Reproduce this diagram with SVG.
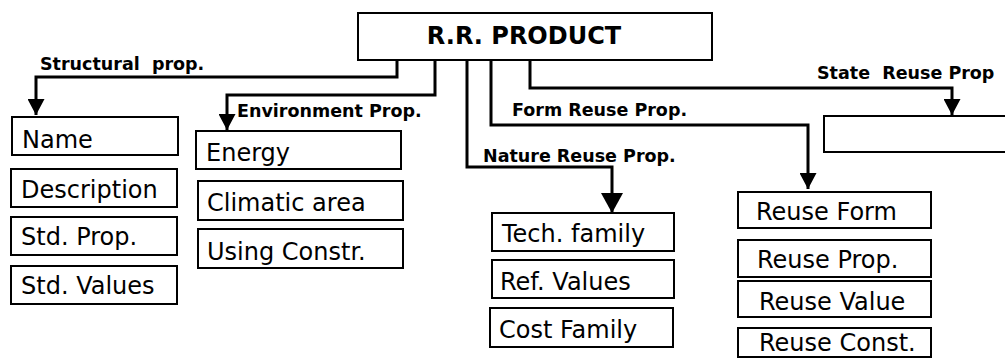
<svg xmlns="http://www.w3.org/2000/svg" width="1005" height="361" viewBox="0 0 1005 361">
<defs>
<marker id="ah" markerUnits="userSpaceOnUse" markerWidth="17" markerHeight="17" refX="16" refY="8.5" orient="auto">
<path d="M0,0 L16,8.5 L0,17 z" fill="#000"/>
</marker>
<marker id="ahl" markerUnits="userSpaceOnUse" markerWidth="21" markerHeight="22" refX="20" refY="11" orient="auto">
<path d="M0,0 L20,11 L0,22 z" fill="#000"/>
</marker>
</defs>
<style>
.box{fill:#fff;stroke:#000;stroke-width:2}
.t{font-family:"DejaVu Sans",sans-serif;font-size:24px;fill:#000}
.lb{font-family:"DejaVu Sans",sans-serif;font-size:17.5px;font-weight:bold;fill:#000}
.c{fill:none;stroke:#000;stroke-width:3}
</style>
<rect width="1005" height="361" fill="#fff"/>
<g id="connectors">
<path class="c" d="M397,60 V77 H36 V115" marker-end="url(#ah)"/>
<path class="c" d="M435,60 V95 H227 V130" marker-end="url(#ah)"/>
<path class="c" d="M467,60 V167 H612 V213" marker-end="url(#ahl)"/>
<path class="c" d="M491,60 V125 H808 V189" marker-end="url(#ah)"/>
<path class="c" d="M530,60 V88 H952 V115" marker-end="url(#ah)"/>
</g>
<g id="labels">
<text class="lb" x="40" y="70" xml:space="preserve">Structural  prop.</text>
<text class="lb" x="237" y="117">Environment Prop.</text>
<text class="lb" x="512" y="116">Form Reuse Prop.</text>
<text class="lb" x="483" y="162">Nature Reuse Prop.</text>
<text class="lb" x="817" y="79" xml:space="preserve">State  Reuse Prop</text>
</g>
<g id="root">
<rect class="box" x="358" y="13" width="354" height="47"/>
<text x="524" y="44" text-anchor="middle" style="font-family:'DejaVu Sans',sans-serif;font-size:24px;font-weight:bold">R.R. PRODUCT</text>
</g>
<g id="name"><rect class="box" x="12" y="117" width="166" height="38"/><text class="t" x="22" y="148">Name</text></g>
<g id="description"><rect class="box" x="11" y="169" width="166" height="38"/><text class="t" x="21" y="198">Description</text></g>
<g id="std-prop"><rect class="box" x="11" y="217" width="166" height="38"/><text class="t" x="21" y="245">Std. Prop.</text></g>
<g id="std-values"><rect class="box" x="11" y="266" width="166" height="38"/><text class="t" x="21" y="294">Std. Values</text></g>
<g id="energy"><rect class="box" x="196" y="131" width="205" height="38"/><text class="t" x="206" y="161">Energy</text></g>
<g id="climatic-area"><rect class="box" x="198" y="181" width="205" height="39"/><text class="t" x="207" y="211">Climatic area</text></g>
<g id="using-constr"><rect class="box" x="198" y="229" width="205" height="39"/><text class="t" x="207" y="260">Using Constr.</text></g>
<g id="tech-family"><rect class="box" x="492" y="213" width="182" height="38"/><text class="t" x="502" y="242">Tech. family</text></g>
<g id="ref-values"><rect class="box" x="492" y="260" width="182" height="38"/><text class="t" x="500" y="290">Ref. Values</text></g>
<g id="cost-family"><rect class="box" x="490" y="308" width="183" height="39"/><text class="t" x="499" y="338">Cost Family</text></g>
<g id="state-box"><rect class="box" x="824" y="116" width="200" height="36"/></g>
<g id="reuse-form"><rect class="box" x="738" y="192" width="193" height="36"/><text class="t" x="756" y="220">Reuse Form</text></g>
<g id="reuse-prop"><rect class="box" x="738" y="240" width="193" height="37"/><text class="t" x="757" y="268">Reuse Prop.</text></g>
<g id="reuse-value"><rect class="box" x="738" y="281" width="193" height="36"/><text class="t" x="759" y="310">Reuse Value</text></g>
<g id="reuse-const"><rect class="box" x="738" y="328" width="193" height="29"/><text class="t" x="759" y="351">Reuse Const.</text></g>
</svg>
